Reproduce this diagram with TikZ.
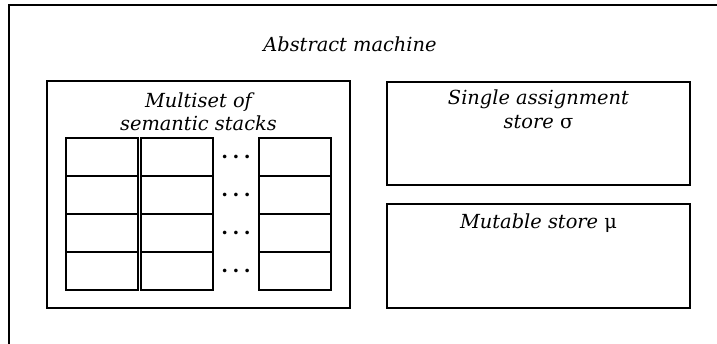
\documentclass[tikz,border=0pt]{standalone}
\usepackage{fontspec}
\setmainfont{DejaVu Serif}
\usetikzlibrary{fit}
\begin{document}
\begin{tikzpicture}[x=0.5pt,y=-0.5pt,
  box/.style={draw, line width=0.9pt, inner sep=0pt, outer sep=0pt},
  lbl/.style={font=\itshape\fontsize{9.7}{12}\selectfont, anchor=base, inner sep=0pt},
  dotsnode/.style={font=\bfseries\fontsize{9.7}{12}\selectfont, inner sep=0pt}]
\useasboundingbox (0,0) rectangle (717,343);
\clip (0,0) rectangle (717,343);

% enclosing machine frame (continues past the page)
\node[box, fit={(9,5) (780,420)}] (machine) {};
\node[lbl] (title) at (350,51) {Abstract machine};

% multiset of semantic stacks
\node[box, fit={(47,81) (350,308)}] (multiset) {};
\node[lbl] (mslabA) at (198.5,107) {Multiset of};
\node[lbl] (mslabB) at (198.5,130) {semantic stacks};

\foreach \c/\x in {1/66, 2/141, 3/259} {
  \foreach \r/\y in {1/138, 2/176, 3/214, 4/252} {
    \node[box, fit={(\x,\y) (\x+72,\y+38)}] (cell-\c-\r) {};
  }
}
\foreach \r/\y in {1/157, 2/195, 3/233, 4/271} {
  \node[dotsnode] (dots-\r) at (236,\y) {.\hspace{2.2pt}.\hspace{2.2pt}.};
}

% stores
\node[box, fit={(387,82) (690,185)}] (sastore) {};
\node[lbl] (salabA) at (538.5,104) {Single assignment};
\node[lbl] (salabB) at (538.5,128) {store {\upshape σ}};

\node[box, fit={(387,204) (690,308)}] (mstore) {};
\node[lbl] (mlab) at (538.5,228) {Mutable store {\upshape μ}};
\end{tikzpicture}
\end{document}
